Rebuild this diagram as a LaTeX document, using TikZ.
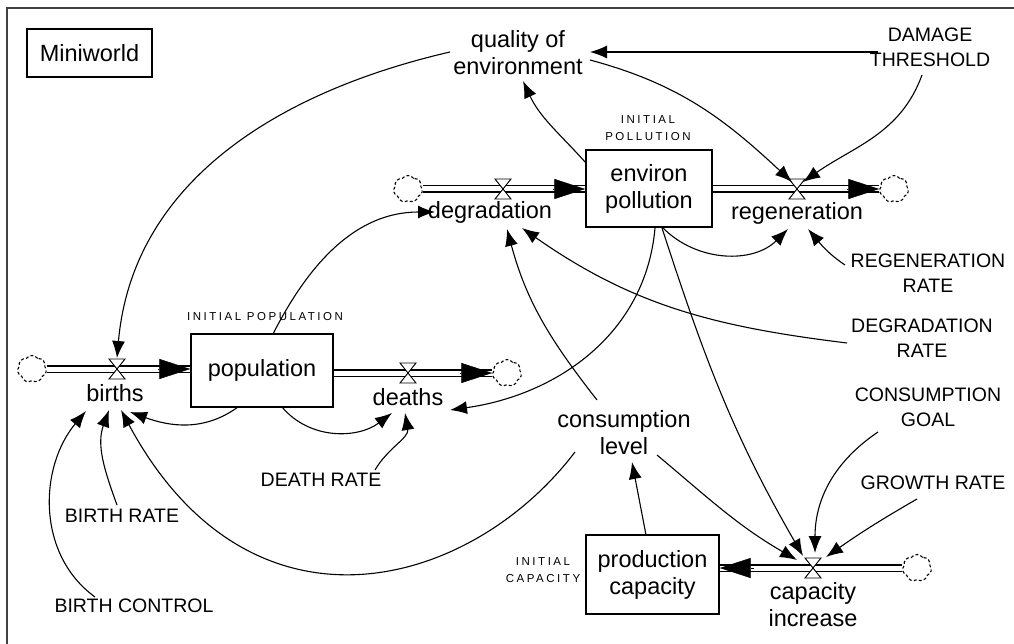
\documentclass[tikz,border=0pt]{standalone}
\usepackage{fontspec}
\setmainfont{Liberation Sans}
\usetikzlibrary{arrows.meta,shapes.symbols,calc}

% label fonts
\newcommand{\mwlow}{\fontsize{23.5}{27}\selectfont}
\newcommand{\mwcaps}{\fontsize{19.5}{25}\selectfont}
\newcommand{\mwtiny}{\fontsize{11.5}{16.5}\selectfont\addfontfeature{LetterSpace=22}}

\tikzset{
  lab/.style={font=\mwlow, align=center, inner sep=0pt},
  caplab/.style={font=\mwcaps, align=center, inner sep=0pt},
  tinylab/.style={font=\mwtiny, align=center, inner sep=0pt},
  stock/.style={draw, line width=1.4pt, inner sep=0pt, font=\mwlow, align=center},
  info/.style={line width=1.1pt, -{Latex[length=17pt,width=13pt]}},
  pipe/.style={double=white, double distance=5pt, line width=1.2pt},
  pipehead/.style={line width=0.5pt, -{Triangle[length=31pt,width=20pt]}},
  sink/.style={cloud, cloud puffs=7, cloud puff arc=110, aspect=1, draw,
    dash pattern=on 3pt off 2.2pt, line width=1.1pt,
    minimum width=29pt, minimum height=27pt, inner sep=0pt},
  valvesym/.pic={\draw[line width=0.9pt, fill=white]
    (-8,10) -- (8,10) -- (-8,-10) -- (8,-10) -- cycle;},
}

\begin{document}
\begin{tikzpicture}[x=1pt,y=1pt]
\useasboundingbox (0,0) rectangle (1014,-644);
\fill[white] (0,0) rectangle (1014,-644);
% sheet border
\draw[line width=2pt, black!75] (7,-644) -- (7,-8) -- (1014,-8);

% title
\node[draw, line width=1.4pt, minimum width=125pt, minimum height=48pt,
      inner sep=0pt, font=\mwlow] (title) at (89.5,-53) {Miniworld};

% stocks
\node[stock, minimum width=142pt, minimum height=73pt] (pop) at (262,-370.5) {population};
\node[stock, minimum width=126pt, minimum height=77pt] (env) at (649,-188.5) {environ\\pollution};
\node[stock, minimum width=133pt, minimum height=79pt] (prod) at (652.5,-574.5) {production\\capacity};

% sources and sinks
\node[sink] (cB) at (32,-369) {};
\node[sink] (cD) at (507,-373) {};
\node[sink] (cG) at (408,-189) {};
\node[sink] (cR) at (894,-189) {};
\node[sink] (cC) at (917,-568) {};

% pipe ends
\coordinate (pB) at (cB.east -| pop.west);
\coordinate (pD) at (pop.east |- cD.west);
\coordinate (pG) at (cG.east -| env.west);
\coordinate (pR) at (env.east |- cR.west);
\coordinate (pC) at (cC.west -| prod.east);

% flows
\draw[pipe] (cB.east) -- (pB);
\draw[pipehead] ([xshift=-32pt]pB) -- (pB);
\draw[pipe] (pD) -- (cD.west);
\draw[pipehead] ([xshift=-32pt]cD.west) -- (cD.west);
\draw[pipe] (cG.east) -- (pG);
\draw[pipehead] ([xshift=-32pt]pG) -- (pG);
\draw[pipe] (pR) -- (cR.west);
\draw[pipehead] ([xshift=-32pt]cR.west) -- (cR.west);
\draw[pipe] (cC.west) -- (pC);
\draw[pipehead] ([xshift=34pt]pC) -- (pC);

% valves
\coordinate (vB) at (117,-369);
\coordinate (vD) at (408,-373);
\coordinate (vG) at (503,-189);
\coordinate (vR) at (797,-189);
\coordinate (vC) at (813,-568);
\foreach \v in {vB,vD,vG,vR,vC} \pic at (\v) {valvesym};

% flow names
\node[lab] (births) at (115,-393) {births};
\node[lab] (deaths) at (408,-397) {deaths};
\node[lab] (degl) at (490,-212) {degradation};
\node[lab] (regl) at (797,-213) {regeneration};
\node[lab] (capl) at (813,-605) {capacity\\increase};

% auxiliaries and constants
\node[lab] (qe) at (518,-53) {quality of\\environment};
\node[lab] (cons) at (624,-433) {consumption\\level};
\node[caplab] (dmg) at (930,-47) {DAMAGE\\THRESHOLD};
\node[caplab] (rr) at (928,-273) {REGENERATION\\RATE};
\node[caplab] (dr) at (922,-338) {DEGRADATION\\RATE};
\node[caplab] (cg) at (928,-407) {CONSUMPTION\\GOAL};
\node[caplab] (gr) at (933,-483) {GROWTH RATE};
\node[caplab] (drate) at (321,-480) {DEATH RATE};
\node[caplab] (brate) at (122,-516) {BIRTH RATE};
\node[caplab] (bctrl) at (134,-606) {BIRTH CONTROL};
\node[tinylab] (ipol) at (648,-128) {INITIAL\\POLLUTION};
\node[tinylab] (ipop) at (265,-317) {INITIAL POPULATION};
\node[tinylab] (icap) at (543,-570) {INITIAL\\CAPACITY};

% information links
\draw[info] ([shift={(-68,1)}]qe.center) to[out=193,in=85] ([shift={(0,11)}]vB);
\draw[info] ([shift={(-52,-5)}]dmg.center) -- ([shift={(72,1)}]qe.center);
\draw[info] ([shift={(-8,-28)}]dmg.center) to[out=250,in=35] ([shift={(6,7)}]vR);
\draw[info] ([shift={(72,-7)}]qe.center) to[out=-15,in=137] ([shift={(-5,7)}]vR);
\draw[info] ([shift={(-63,25.5)}]env.center) to[out=132,in=-65] ([shift={(5,-28)}]qe.center);
\draw[info] ([shift={(11,36.5)}]pop.center) to[out=63,in=180] ([shift={(-55,0)}]degl.center);
\draw[info] ([shift={(14,-39.5)}]env.center) to[out=-45,in=-135] ([shift={(-9,-16)}]regl.center);
\draw[info] ([shift={(-83,8)}]rr.center) to[out=146,in=-50] ([shift={(11,-16)}]regl.center);
\draw[info] ([shift={(-75,-5)}]dr.center) to[out=173,in=-35] ([shift={(32,-16)}]degl.center);
\draw[info] ([shift={(-27,33)}]cons.center) to[out=128,in=-75] ([shift={(17,-17)}]degl.center);
\draw[info] ([shift={(6,-39.5)}]env.center) to[out=-95,in=8] ([shift={(42,-13)}]deaths.center);
\draw[info] ([shift={(13,-39.5)}]env.center) to[out=-72,in=120] ([shift={(-10,12)}]vC);
\draw[info] ([shift={(33,-22)}]cons.center) to[out=-40,in=150] ([shift={(-16,8)}]vC);
\draw[info] ([shift={(-50,-25)}]cg.center) to[out=214,in=90] ([shift={(2,15)}]vC);
\draw[info] ([shift={(-16,-16)}]gr.center) to[out=210,in=35] ([shift={(13,11)}]vC);
\draw[info] ([shift={(-6.5,39.5)}]prod.center) -- ([shift={(8,-29)}]cons.center);
\draw[info] ([shift={(-24,-36.5)}]pop.center) to[out=216,in=-20] ([shift={(15,-19)}]births.center);
\draw[info] ([shift={(-49,-19)}]cons.center) .. controls (470,-590) and (250,-650) .. ([shift={(6,-17)}]births.center);
\draw[info] ([shift={(-5,11)}]brate.center) to[out=110,in=-110] ([shift={(-6,-17)}]births.center);
\draw[info] ([shift={(-39,9)}]bctrl.center) to[out=144,in=-130] ([shift={(-29,-18)}]births.center);
\draw[info] ([shift={(20,-36.5)}]pop.center) to[out=-50,in=-143] ([shift={(-16,-16)}]deaths.center);
\draw[info] ([shift={(54,10)}]drate.center) to[out=60,in=-80] ([shift={(-3,-16)}]deaths.center);
\end{tikzpicture}
\end{document}
